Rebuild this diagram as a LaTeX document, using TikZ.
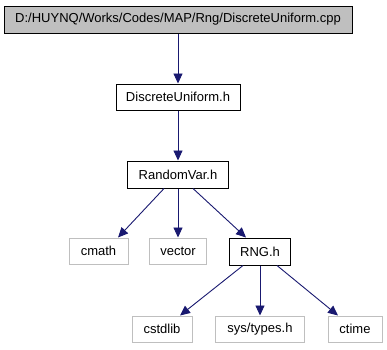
\documentclass[tikz,border=0pt]{standalone}
\usepackage{fontspec}
\setmainfont{Liberation Sans}
\usetikzlibrary{arrows.meta}
\definecolor{edgeblue}{HTML}{191970}
\definecolor{sysgray}{HTML}{BFBFBF}
\begin{document}
\begin{tikzpicture}[x=1pt,y=-1pt,
  filebox/.style={draw=black,line width=1pt,fill=white,inner sep=0pt,
    minimum height=26pt,font=\fontsize{13}{15}\selectfont},
  sysbox/.style={filebox,draw=sysgray},
  rootbox/.style={filebox,fill=sysgray},
  dep/.style={draw=edgeblue,line width=0.9pt,
    -{Triangle[length=10pt,width=9pt]}}]
\useasboundingbox (0,0) rectangle (387,349);
\node[rootbox,minimum width=348pt,minimum height=27pt] (cpp) at (178,19.5) {D:/HUYNQ/Works/Codes/MAP/Rng/DiscreteUniform.cpp};
\node[filebox,minimum width=124pt] (du) at (178,97) {DiscreteUniform.h};
\node[filebox,minimum width=101pt,minimum height=27pt] (rv) at (178,174.5) {RandomVar.h};
\node[sysbox,minimum width=59pt] (cmath) at (98.5,251) {cmath};
\node[sysbox,minimum width=57pt] (vector) at (178,251) {vector};
\node[filebox,minimum width=61pt,minimum height=27pt] (rng) at (260,251.5) {RNG.h};
\node[sysbox,minimum width=60pt] (cstdlib) at (162,329) {cstdlib};
\node[sysbox,minimum width=89pt] (types) at (260,329) {sys/types.h};
\node[sysbox,minimum width=54pt] (ctime) at (355,329) {ctime};
\draw[dep] (cpp.south) -- (du.north);
\draw[dep] (du.south) -- (rv.north);
\draw[dep] ([xshift=-14pt]rv.south) -- ([xshift=19.5pt]cmath.north);
\draw[dep] (rv.south) -- (vector.north);
\draw[dep] ([xshift=15pt]rv.south) -- ([xshift=-14pt]rng.north);
\draw[dep] ([xshift=-17pt]rng.south) -- ([xshift=18pt]cstdlib.north);
\draw[dep] (rng.south) -- (types.north);
\draw[dep] ([xshift=17pt]rng.south) -- ([xshift=-17pt]ctime.north);
\end{tikzpicture}
\end{document}
